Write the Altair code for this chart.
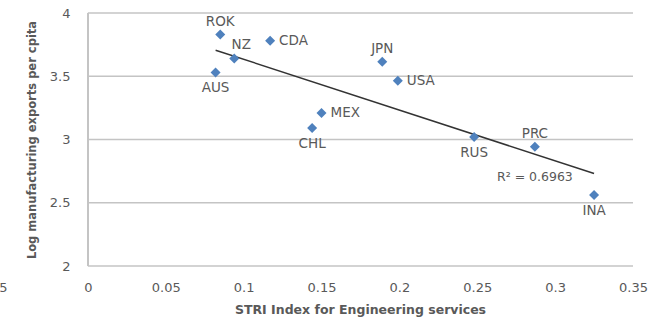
import altair as alt
import pandas as pd

# Economies, services restrictiveness (engineering) and log manufacturing exports per capita
economy = ["ROK", "NZ", "CDA", "AUS", "MEX", "CHL", "JPN", "USA", "RUS", "PRC", "INA"]
stri_engineering = [0.085, 0.094, 0.117, 0.082, 0.150, 0.144, 0.189, 0.199, 0.248, 0.287, 0.325]
log_mfg_exports = [3.83, 3.64, 3.78, 3.53, 3.21, 3.09, 3.615, 3.465, 3.02, 2.943, 2.561]
# where each economy's label sits relative to its marker
label_side = ["above", "upper right", "right", "below", "right", "below",
              "above", "right", "below", "above", "below"]

x_ticks = [-0.05, 0, 0.05, 0.1, 0.15, 0.2, 0.25, 0.3, 0.35]
y_ticks = [2, 2.5, 3, 3.5, 4]
r_squared_label = "R² = 0.6963"

FONT = "DejaVu Sans"
TEXT = "#595959"
GRID = "#c4c4c4"

df = pd.DataFrame({
    "economy": economy,
    "stri": stri_engineering,
    "exports": log_mfg_exports,
    "side": label_side,
})
grid_df = pd.DataFrame({"level": y_ticks})
note_df = pd.DataFrame({"stri": [0.287], "exports": [2.704], "note": [r_squared_label]})

x_scale = alt.Scale(domain=[-0.05, 0.35], nice=False, zero=False)
y_scale = alt.Scale(domain=[2, 4], nice=False, zero=False)

x_axis = alt.Axis(
    values=x_ticks, format="~g", grid=False, domain=False, ticks=False,
    labelFont=FONT, labelFontSize=13, labelColor=TEXT, labelPadding=15,
    labelAlign={"condition": {"test": "datum.value < 0", "value": "right"}, "value": "center"},
    labelOffset={"condition": {"test": "datum.value < 0", "value": -3}, "value": 0},
    titleFont=FONT, titleFontSize=12.5,
    titleFontWeight="bold", titleColor=TEXT, titlePadding=9, titleX=350,
)
y_axis = alt.Axis(
    values=y_ticks, format="~g", grid=False, domain=False, ticks=False, offset=-78,
    labelFont=FONT, labelFontSize=13, labelColor=TEXT, labelPadding=18,
    titleFont=FONT, titleFontSize=11.5,
    titleFontWeight="bold", titleColor=TEXT, titlePadding=12,
)

# the axes live on this layer; the others share its scales
axes_layer = alt.Chart(pd.DataFrame({"stri": [0.0], "exports": [2.0]})).mark_point(opacity=0).encode(
    x=alt.X("stri:Q", scale=x_scale, axis=x_axis, title="STRI Index for Engineering services"),
    y=alt.Y("exports:Q", scale=y_scale, axis=y_axis, title="Log manufacturing exports per cpita"),
)

# horizontal gridlines spanning the x range from 0 to 0.35
grid = alt.Chart(grid_df).mark_rule(color=GRID, strokeWidth=1.5).encode(
    x=alt.X(datum=0),
    x2=alt.X2(datum=0.35),
    y=alt.Y("level:Q"),
)

# vertical axis line crossing at x = 0
y_line = alt.Chart(grid_df).mark_rule(color=GRID, strokeWidth=1.5).encode(
    x=alt.X(datum=0),
    y=alt.Y(datum=2),
    y2=alt.Y2(datum=4),
)

base = alt.Chart(df)

trend = base.transform_regression("stri", "exports", method="linear").mark_line(
    color="#333333", strokeWidth=1.5
).encode(
    x="stri:Q",
    y="exports:Q",
)

points = base.mark_point(shape="diamond", filled=True, size=100, color="#4f81bd", opacity=1).encode(
    x="stri:Q",
    y="exports:Q",
)


def labels(side, **offsets):
    return base.transform_filter(alt.datum.side == side).mark_text(
        font=FONT, fontSize=13.5, color=TEXT, baseline="middle", **offsets
    ).encode(
        x="stri:Q",
        y="exports:Q",
        text="economy:N",
    )


above = labels("above", align="center", dy=-13)
below = labels("below", align="center", dy=16)
right = labels("right", align="left", dx=9)
upper_right = labels("upper right", align="center", dx=7, dy=-14)

note = alt.Chart(note_df).mark_text(
    font=FONT, fontSize=12.5, color=TEXT, align="center", baseline="middle"
).encode(
    x="stri:Q",
    y="exports:Q",
    text="note:N",
)

chart = alt.layer(
    axes_layer, grid, y_line, trend, points, above, below, right, upper_right, note
).properties(
    width=623,
    height=253,
    background="white",
    padding={"left": 10, "top": 13, "right": 21, "bottom": 56},
    autosize=alt.AutoSizeParams(type="none"),
).configure_view(stroke=None)

chart.save("out.html", embed_options={"renderer": "svg", "actions": False})
